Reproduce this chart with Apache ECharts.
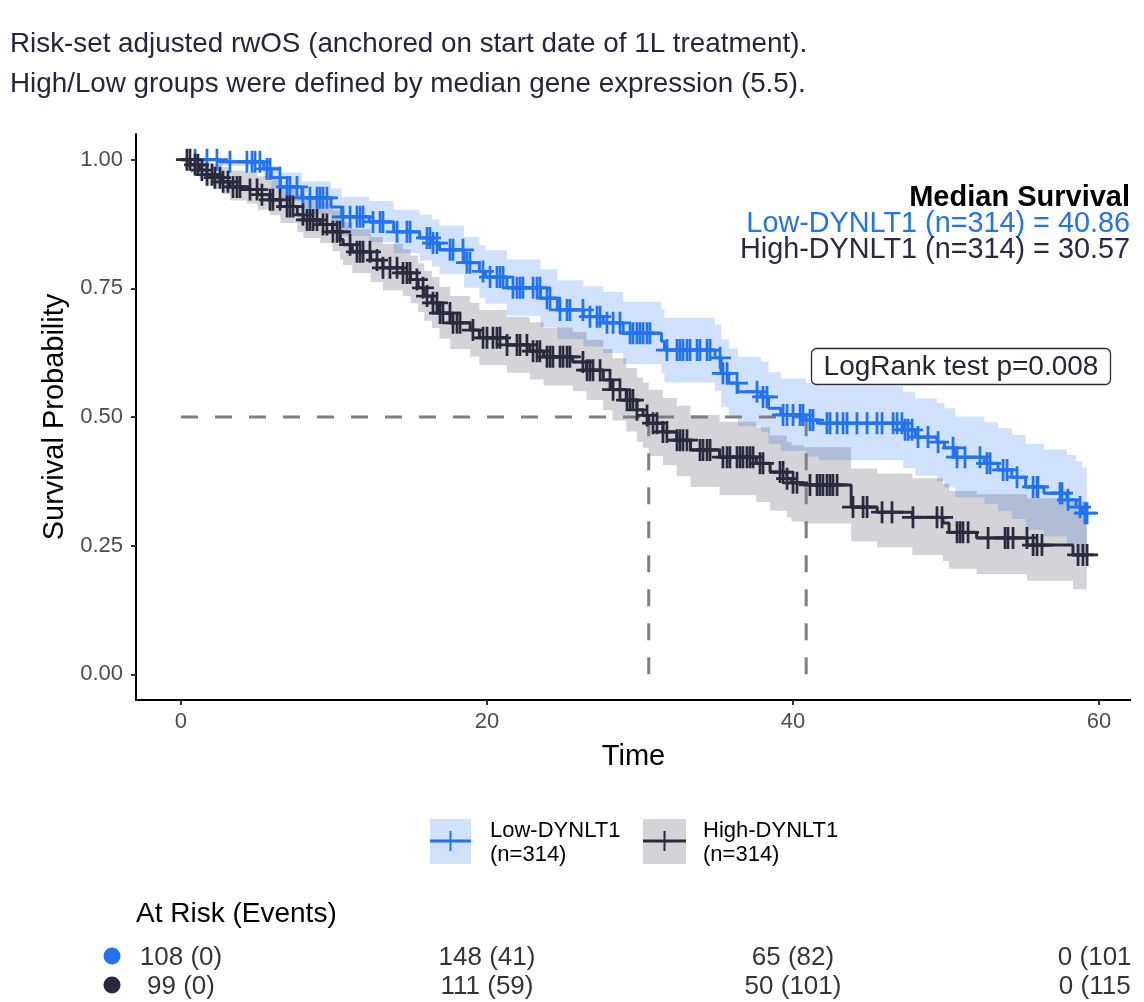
<!DOCTYPE html>
<html><head><meta charset="utf-8">
<script src="https://cdn.jsdelivr.net/npm/echarts@6/dist/echarts.min.js"></script>
<style>html,body{margin:0;padding:0;background:#fff;overflow:hidden}#c{width:1131px;height:1002px}</style>
</head><body><div id="c"></div>
<script>
// ---------- data ----------
const groupNames = ['Low-DYNLT1', 'High-DYNLT1'];
const groupN = [314, 314];
const medianSurvival = [40.86, 30.57];
const logRankP = '0.008';

const lowTime  = [0,2.5,5.4,5.9,6.5,7.9,9.8,10.5,12.3,13.9,15.6,16.4,16.9,18.5,19.5,19.9,21.3,23.5,24.6,26.3,27.6,28.9,31.4,31.6,34.9,35.3,35.8,36.4,37.9,38.4,39.2,40.86,41.7,47.2,48.0,49.4,49.9,50.6,52.5,53.4,54.3,55.2,56.4,57.9,58.5,58.9,59.2];
const lowSurv  = [1.000,0.996,0.982,0.965,0.947,0.926,0.908,0.889,0.879,0.860,0.848,0.838,0.825,0.800,0.783,0.772,0.751,0.731,0.708,0.695,0.683,0.663,0.647,0.630,0.615,0.585,0.566,0.549,0.539,0.517,0.504,0.494,0.488,0.475,0.461,0.451,0.440,0.422,0.410,0.397,0.383,0.364,0.352,0.339,0.325,0.313,0.313];
const lowLower = [1.000,0.988,0.965,0.943,0.920,0.895,0.873,0.852,0.840,0.818,0.804,0.792,0.778,0.751,0.732,0.720,0.697,0.675,0.651,0.637,0.624,0.603,0.585,0.567,0.551,0.520,0.500,0.482,0.471,0.448,0.434,0.423,0.416,0.401,0.386,0.375,0.363,0.344,0.331,0.317,0.302,0.281,0.268,0.253,0.238,0.225,0.225];
const lowUpper = [1.000,1.000,0.998,0.988,0.975,0.958,0.944,0.928,0.920,0.903,0.893,0.884,0.872,0.850,0.834,0.824,0.806,0.787,0.766,0.754,0.743,0.724,0.709,0.693,0.680,0.651,0.633,0.617,0.608,0.587,0.575,0.566,0.560,0.549,0.536,0.527,0.517,0.501,0.490,0.478,0.465,0.448,0.437,0.426,0.414,0.402,0.402];
const lowCensor = [0.92,1.70,2.35,3.20,4.31,4.64,4.84,5.16,5.62,5.82,6.47,6.93,7.12,7.58,7.97,8.43,8.89,9.08,9.28,9.54,10.59,11.05,11.50,11.70,11.90,12.55,13.01,13.20,14.12,14.77,14.97,16.08,16.27,16.47,16.73,17.58,17.78,18.43,18.69,18.89,19.74,20.20,20.65,20.85,21.05,21.70,21.96,22.16,22.35,23.01,23.27,23.46,23.92,24.12,24.77,25.23,25.42,26.27,26.73,27.19,27.39,27.84,28.24,28.69,29.35,29.54,29.80,30.00,30.20,30.46,30.65,31.76,32.42,32.61,32.81,33.07,33.27,33.73,33.92,34.38,34.58,35.23,35.42,35.69,36.34,37.65,38.04,38.30,39.35,39.61,40.00,40.46,40.65,41.11,41.31,42.22,42.42,42.88,43.27,43.53,44.18,44.84,45.49,45.82,46.54,46.80,47.12,47.32,47.52,47.78,48.17,48.82,49.48,50.46,50.72,51.24,52.22,52.68,52.88,53.73,53.99,54.64,55.69,55.95,56.01,57.45,57.58,57.97,58.76,59.08,59.22];

const highTime  = [0,0.6,1.2,1.7,2.1,2.7,3.2,4.3,5.0,5.8,6.5,7.6,8.0,9.1,9.9,10.4,10.6,11.2,12.4,13.2,14.5,15.0,15.5,15.9,16.4,16.9,17.6,18.9,19.5,21.3,22.8,23.7,25.6,26.5,27.6,28.2,29.1,29.8,30.2,30.57,31.5,32.4,33.3,35.2,37.6,38.5,39.6,39.9,40.7,43.8,45.5,47.8,49.8,50.2,52.0,55.3,58.3,59.2];
const highSurv  = [1.000,0.990,0.980,0.971,0.965,0.957,0.947,0.942,0.932,0.922,0.909,0.893,0.883,0.874,0.860,0.845,0.835,0.821,0.805,0.790,0.780,0.767,0.751,0.735,0.722,0.702,0.683,0.669,0.654,0.640,0.628,0.617,0.607,0.591,0.572,0.553,0.533,0.514,0.503,0.488,0.471,0.455,0.436,0.422,0.410,0.393,0.380,0.372,0.368,0.325,0.315,0.305,0.294,0.276,0.265,0.251,0.232,0.232];
const highLower = [1.000,0.975,0.962,0.950,0.943,0.933,0.921,0.915,0.903,0.892,0.877,0.859,0.848,0.838,0.822,0.806,0.795,0.780,0.762,0.746,0.735,0.721,0.704,0.687,0.673,0.652,0.632,0.617,0.601,0.586,0.573,0.561,0.550,0.533,0.513,0.493,0.472,0.452,0.440,0.424,0.406,0.385,0.364,0.348,0.335,0.318,0.305,0.297,0.293,0.258,0.247,0.232,0.220,0.205,0.195,0.182,0.165,0.165];
const highUpper = [1.000,1.000,0.998,0.994,0.991,0.986,0.979,0.975,0.968,0.960,0.948,0.933,0.924,0.915,0.902,0.888,0.879,0.865,0.850,0.836,0.826,0.814,0.799,0.784,0.772,0.753,0.735,0.722,0.708,0.695,0.684,0.674,0.665,0.650,0.632,0.614,0.595,0.577,0.567,0.553,0.537,0.522,0.504,0.491,0.480,0.464,0.452,0.445,0.441,0.400,0.390,0.381,0.371,0.356,0.350,0.342,0.336,0.336];
const highCensor = [0.39,0.59,0.92,1.11,1.37,1.70,2.03,2.22,2.55,2.75,3.07,3.40,3.66,3.86,4.51,4.97,5.29,5.82,6.01,6.47,6.93,7.12,7.32,7.97,8.24,8.43,8.63,8.89,9.28,9.54,9.93,10.20,10.39,11.05,11.50,11.70,11.90,12.35,12.81,13.20,13.66,14.12,14.51,14.77,14.97,15.42,15.82,16.08,16.47,16.73,16.93,17.12,17.58,17.78,18.04,18.24,19.08,19.74,20.00,20.39,20.65,20.85,21.31,21.96,22.16,22.61,23.01,23.27,23.46,23.92,24.12,24.31,24.77,24.97,25.23,25.42,26.27,26.54,26.73,26.93,27.39,28.04,28.24,28.69,29.15,29.35,29.54,29.80,30.46,30.85,31.11,31.50,31.76,32.42,32.61,32.81,33.07,33.92,34.12,34.38,34.58,35.42,35.69,35.88,36.34,36.54,36.73,36.99,37.19,37.39,37.84,38.04,39.15,39.35,39.61,40.00,40.26,41.11,41.57,41.76,41.96,42.22,42.42,42.61,42.88,43.92,44.58,44.84,45.82,46.47,47.84,49.41,49.74,50.72,50.92,51.11,51.44,52.75,53.86,54.05,54.38,55.29,55.69,55.95,56.27,58.63,58.95,59.22];

const xTicks = [0, 20, 40, 60];
const yTicks = [0, 0.25, 0.5, 0.75, 1.0];
const riskTimes = [0, 20, 40, 60];
const lowAtRisk = [108, 148, 65, 0];
const lowEvents = [0, 41, 82, 101];
const highAtRisk = [99, 111, 50, 0];
const highEvents = [0, 59, 101, 115];

// ---------- style ----------
const FONT = 'Liberation Sans, Arial, Helvetica, sans-serif';
const BLUE = '#2372F0';
const DARK = '#292A3E';
const BLUE_BAND = 'rgba(35,114,240,0.21)';
const DARK_BAND = 'rgba(41,42,62,0.20)';

function survAt(time, surv, t) {
  let v = surv[0];
  for (let i = 0; i < time.length; i++) { if (time[i] <= t) v = surv[i]; else break; }
  return v;
}
function bandSeries(time, lower, upper, color) {
  return {
    type: 'custom', xAxisIndex: 0, yAxisIndex: 0, silent: true, z: 1,
    data: [[time[0], upper[0]]],
    renderItem: function (params, api) {
      const pts = [];
      const n = time.length;
      for (let i = 0; i < n; i++) {
        pts.push(api.coord([time[i], upper[i]]));
        if (i < n - 1) pts.push(api.coord([time[i + 1], upper[i]]));
      }
      for (let i = n - 1; i >= 0; i--) {
        if (i < n - 1) pts.push(api.coord([time[i + 1], lower[i]]));
        pts.push(api.coord([time[i], lower[i]]));
      }
      return { type: 'polygon', shape: { points: pts }, style: { fill: color } };
    }
  };
}
function curveSeries(time, surv, color) {
  return {
    type: 'line', xAxisIndex: 0, yAxisIndex: 0, step: 'end', showSymbol: false, silent: true, z: 4,
    data: time.map((t, i) => [t, surv[i]]),
    lineStyle: { color: color, width: 3 }, itemStyle: { color: color }
  };
}
const CROSS = 'path://M-1,-0.125 L1,-0.125 L1,0.125 L-1,0.125 Z M-0.125,-1 L0.125,-1 L0.125,1 L-0.125,1 Z';
function censorSeries(censor, time, surv, color) {
  return {
    type: 'scatter', xAxisIndex: 0, yAxisIndex: 0, silent: true, z: 5,
    symbol: CROSS, symbolSize: 22,
    data: censor.map(t => [t, survAt(time, surv, t)]),
    itemStyle: { color: color, opacity: 1 }
  };
}
function dashSeries(data) {
  return {
    type: 'line', xAxisIndex: 0, yAxisIndex: 0, showSymbol: false, silent: true, z: 3,
    data: data, lineStyle: { color: '#7f7f7f', width: 3, type: [17, 17] }
  };
}
const maxMedian = Math.max.apply(null, medianSurvival);
const medianLines = [dashSeries([[0, 0.5], [maxMedian, 0.5]])].concat(
  medianSurvival.map(m => dashSeries([[m, 0], [m, 0.5]])));

function riskSeries(rowIdx, nArr, eArr) {
  return {
    type: 'scatter', xAxisIndex: 1, yAxisIndex: 1, symbolSize: 0, silent: true,
    data: riskTimes.map((t, i) => [t, rowIdx]),
    label: {
      show: true, position: 'inside', fontSize: 26, color: '#000', fontFamily: FONT,
      formatter: p => nArr[p.dataIndex] + ' (' + eArr[p.dataIndex] + ')'
    }
  };
}

const chart = echarts.init(document.getElementById('c'), null, { renderer: 'canvas' });
const option = {
  backgroundColor: '#fff',
  animation: false,
  textStyle: { fontFamily: FONT },
  grid: [
    { left: 136, top: 134, right: 0, height: 566 },
    { left: 136, top: 943.5, right: 0, height: 58 }
  ],
  xAxis: [
    {
      type: 'value', gridIndex: 0, min: -2.94, max: 62.09,
      axisLine: { onZero: false, lineStyle: { color: '#000', width: 2 } },
      axisTick: { customValues: xTicks, length: 5, lineStyle: { color: '#333', width: 2 } },
      axisLabel: { customValues: xTicks, fontSize: 22, color: '#4d4d4d', margin: 11 },
      splitLine: { show: false },
      name: 'Time', nameLocation: 'middle', nameGap: 42,
      nameTextStyle: { fontSize: 29, color: '#000' }
    },
    { type: 'value', gridIndex: 1, min: -2.94, max: 62.09, show: false }
  ],
  yAxis: [
    {
      type: 'value', gridIndex: 0, min: -0.05, max: 1.05,
      axisLine: { show: true, onZero: false, lineStyle: { color: '#000', width: 2 } },
      axisTick: { show: true, customValues: yTicks, length: 5, lineStyle: { color: '#333', width: 2 } },
      axisLabel: { customValues: yTicks, fontSize: 22, color: '#4d4d4d', margin: 13, formatter: v => v.toFixed(2) },
      splitLine: { show: false },
      name: 'Survival Probability', nameLocation: 'middle', nameGap: 64,
      nameTextStyle: { fontSize: 29, color: '#000' }
    },
    { type: 'category', gridIndex: 1, data: groupNames, inverse: true, show: false }
  ],
  series: [
    bandSeries(lowTime, lowLower, lowUpper, BLUE_BAND),
    bandSeries(highTime, highLower, highUpper, DARK_BAND)
  ].concat(medianLines).concat([
    curveSeries(lowTime, lowSurv, BLUE),
    curveSeries(highTime, highSurv, DARK),
    censorSeries(lowCensor, lowTime, lowSurv, BLUE),
    censorSeries(highCensor, highTime, highSurv, DARK),
    riskSeries(0, lowAtRisk, lowEvents),
    riskSeries(1, highAtRisk, highEvents)
  ]),
  graphic: [
    { type: 'text', x: 10, y: 44, style: { text: 'Risk-set adjusted rwOS (anchored on start date of 1L treatment).', fontSize: 27.8, fontFamily: FONT, fill: '#262638', verticalAlign: 'middle' } },
    { type: 'text', x: 10, y: 84, style: { text: 'High/Low groups were defined by median gene expression (5.5).', fontSize: 27.8, fontFamily: FONT, fill: '#262638', verticalAlign: 'middle' } },
    { type: 'text', x: 1130, y: 198, style: { text: 'Median Survival', fontSize: 29, fontWeight: 'bold', fontFamily: FONT, fill: '#000', align: 'right', verticalAlign: 'middle' } },
    { type: 'text', x: 1130, y: 224, style: { text: groupNames[0] + ' (n=' + groupN[0] + ') = ' + medianSurvival[0].toFixed(2), fontSize: 28.8, fontFamily: FONT, fill: BLUE, align: 'right', verticalAlign: 'middle' } },
    { type: 'text', x: 1130, y: 250, style: { text: groupNames[1] + ' (n=' + groupN[1] + ') = ' + medianSurvival[1].toFixed(2), fontSize: 28.8, fontFamily: FONT, fill: DARK, align: 'right', verticalAlign: 'middle' } },
    { type: 'rect', shape: { x: 811.5, y: 348.5, width: 299, height: 36, r: 5 }, style: { fill: '#fff', stroke: '#2b2b38', lineWidth: 1.3 }, z: 10 },
    { type: 'text', x: 961, y: 367, z: 11, style: { text: 'LogRank test p=' + logRankP, fontSize: 28, fontFamily: FONT, fill: '#262638', align: 'center', verticalAlign: 'middle' } },
    // legend
    { type: 'rect', shape: { x: 430, y: 819, width: 41, height: 45 }, style: { fill: BLUE_BAND } },
    { type: 'line', shape: { x1: 430, y1: 841, x2: 471, y2: 841 }, style: { stroke: BLUE, lineWidth: 3 } },
    { type: 'line', shape: { x1: 450.5, y1: 831, x2: 450.5, y2: 851 }, style: { stroke: BLUE, lineWidth: 2 } },
    { type: 'text', x: 490, y: 843, style: { text: groupNames[0] + '\n(n=' + groupN[0] + ')', fontSize: 22, lineHeight: 24, fontFamily: FONT, fill: '#000', verticalAlign: 'middle' } },
    { type: 'rect', shape: { x: 643, y: 819, width: 43, height: 45 }, style: { fill: DARK_BAND } },
    { type: 'line', shape: { x1: 643, y1: 841, x2: 686, y2: 841 }, style: { stroke: DARK, lineWidth: 3 } },
    { type: 'line', shape: { x1: 664.5, y1: 831, x2: 664.5, y2: 851 }, style: { stroke: DARK, lineWidth: 2 } },
    { type: 'text', x: 703, y: 843, style: { text: groupNames[1] + '\n(n=' + groupN[1] + ')', fontSize: 22, lineHeight: 24, fontFamily: FONT, fill: '#000', verticalAlign: 'middle' } },
    // at-risk header and dots
    { type: 'text', x: 136, y: 914, style: { text: 'At Risk (Events)', fontSize: 28, fontFamily: FONT, fill: '#000', verticalAlign: 'middle' } },
    { type: 'circle', shape: { cx: 112, cy: 956, r: 8.5 }, style: { fill: BLUE } },
    { type: 'circle', shape: { cx: 112, cy: 985, r: 8.5 }, style: { fill: DARK } }
  ]
};
chart.setOption(option);
</script>
</body></html>
